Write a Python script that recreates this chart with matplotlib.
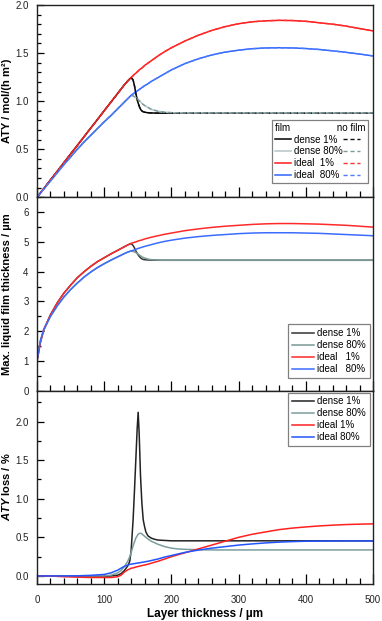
import numpy as np
import matplotlib
matplotlib.use('Agg')
import matplotlib.pyplot as plt
from matplotlib.ticker import MultipleLocator

plt.rcParams['font.family'] = ['Liberation Sans', 'DejaVu Sans']
plt.rcParams['mathtext.fontset'] = 'custom'
plt.rcParams['mathtext.rm'] = 'Liberation Sans'
plt.rcParams['mathtext.it'] = 'Liberation Sans:italic'
plt.rcParams['mathtext.bf'] = 'Liberation Sans:bold'
plt.rcParams['mathtext.bfit'] = 'Liberation Sans:italic:bold'

# layer thickness grid for ATY and film thickness panels
x12 = [0, 5, 10, 20, 30, 40, 50, 60, 70, 80, 90, 100, 110, 120, 130, 135, 140, 143, 145, 147,
       150, 153, 155, 157, 160, 165, 170, 180, 190, 200, 220, 240, 260, 280, 300, 320, 340, 360,
       380, 400, 420, 440, 460, 480, 500]

# ATY / mol/(h m2)
aty_ideal1 = [0, 0.045, 0.09, 0.18, 0.27, 0.36, 0.45, 0.54, 0.63, 0.72, 0.81, 0.90, 0.99, 1.08, 1.17, 1.21,
              1.245, 1.265, 1.28, 1.29, 1.31, 1.33, 1.34, 1.35, 1.37, 1.395, 1.42, 1.47, 1.515, 1.555,
              1.625, 1.685, 1.735, 1.775, 1.805, 1.825, 1.835, 1.84, 1.838, 1.83, 1.815, 1.80, 1.78, 1.755, 1.73]
aty_ideal80 = [0, 0.043, 0.085, 0.17, 0.255, 0.34, 0.42, 0.50, 0.575, 0.645, 0.715, 0.785, 0.85, 0.92, 0.99,
               1.025, 1.06, 1.075, 1.085, 1.095, 1.11, 1.125, 1.135, 1.145, 1.16, 1.18, 1.205, 1.245, 1.285,
               1.325, 1.39, 1.44, 1.48, 1.51, 1.53, 1.545, 1.553, 1.555, 1.553, 1.547, 1.537, 1.523, 1.507, 1.49, 1.47]
aty_dense1 = [0, 0.045, 0.09, 0.18, 0.27, 0.36, 0.45, 0.54, 0.63, 0.72, 0.81, 0.90, 0.99, 1.08, 1.17, 1.21,
              1.245, 1.22, 1.16, 1.08, 0.99, 0.93, 0.905, 0.893, 0.885, 0.879, 0.877, 0.875, 0.875, 0.875,
              0.875, 0.875, 0.875, 0.875, 0.875, 0.875, 0.875, 0.875, 0.875, 0.875, 0.875, 0.875, 0.875, 0.875, 0.875]
aty_dense80 = [0, 0.043, 0.085, 0.17, 0.255, 0.34, 0.42, 0.50, 0.575, 0.645, 0.715, 0.785, 0.85, 0.92, 0.99,
               1.025, 1.06, 1.055, 1.045, 1.035, 1.02, 1.0, 0.985, 0.97, 0.955, 0.935, 0.915, 0.895, 0.885,
               0.88, 0.877, 0.877, 0.877, 0.877, 0.877, 0.877, 0.877, 0.877, 0.877, 0.877, 0.877, 0.877, 0.877, 0.877, 0.877]

# max. liquid film thickness / um
film_ideal1 = [1.0, 1.62, 2.05, 2.55, 2.95, 3.28, 3.55, 3.80, 4.0, 4.18, 4.34, 4.47, 4.60, 4.72, 4.84, 4.90,
               4.95, 4.975, 4.99, 5.0, 5.03, 5.05, 5.06, 5.075, 5.10, 5.13, 5.16, 5.21, 5.26, 5.30, 5.38,
               5.44, 5.49, 5.53, 5.56, 5.59, 5.61, 5.62, 5.62, 5.61, 5.60, 5.58, 5.56, 5.53, 5.50]
film_ideal80 = [1.0, 1.68, 2.05, 2.50, 2.85, 3.15, 3.40, 3.62, 3.82, 3.99, 4.14, 4.27, 4.39, 4.50, 4.61, 4.66,
                4.70, 4.72, 4.735, 4.75, 4.78, 4.80, 4.815, 4.83, 4.85, 4.88, 4.91, 4.97, 5.02, 5.06, 5.13,
                5.18, 5.22, 5.25, 5.28, 5.30, 5.31, 5.31, 5.31, 5.30, 5.29, 5.27, 5.25, 5.23, 5.21]
film_dense1 = [1.0, 1.62, 2.05, 2.55, 2.95, 3.28, 3.55, 3.80, 4.0, 4.18, 4.34, 4.47, 4.60, 4.72, 4.84, 4.90,
               4.95, 4.88, 4.80, 4.70, 4.58, 4.49, 4.45, 4.42, 4.405, 4.395, 4.39, 4.385, 4.385, 4.385, 4.385,
               4.385, 4.385, 4.385, 4.385, 4.385, 4.385, 4.385, 4.385, 4.385, 4.385, 4.385, 4.385, 4.385, 4.385]
film_dense80 = [1.0, 1.68, 2.05, 2.50, 2.85, 3.15, 3.40, 3.62, 3.82, 3.99, 4.14, 4.27, 4.39, 4.50, 4.61, 4.66,
                4.70, 4.68, 4.665, 4.645, 4.60, 4.55, 4.52, 4.49, 4.46, 4.425, 4.405, 4.39, 4.385, 4.385, 4.385,
                4.385, 4.385, 4.385, 4.385, 4.385, 4.385, 4.385, 4.385, 4.385, 4.385, 4.385, 4.385, 4.385, 4.385]

# ATY loss / %
x3 = [0, 20, 40, 60, 80, 100, 110, 120, 125, 130, 135, 138, 140, 143, 145, 147, 149, 150.5, 152, 154, 156,
      158, 160, 162, 165, 170, 175, 180, 190, 200, 210, 220, 240, 260, 280, 300, 320, 340, 360, 380, 400,
      420, 440, 460, 480, 500]
loss_dense1 = [0, 0, 0, -0.005, -0.005, -0.005, 0, 0.01, 0.03, 0.07, 0.13, 0.19, 0.32, 0.73, 1.1, 1.5, 1.9,
               2.12, 1.85, 1.3, 0.95, 0.73, 0.64, 0.57, 0.52, 0.49, 0.475, 0.465, 0.46, 0.455, 0.455, 0.455,
               0.455, 0.455, 0.455, 0.455, 0.455, 0.455, 0.455, 0.455, 0.455, 0.455, 0.455, 0.455, 0.455, 0.455]
loss_dense80 = [0, 0, 0, 0, 0, 0, 0.01, 0.04, 0.07, 0.12, 0.19, 0.25, 0.30, 0.39, 0.44, 0.49, 0.52, 0.54,
                0.55, 0.553, 0.545, 0.53, 0.515, 0.50, 0.48, 0.45, 0.43, 0.41, 0.38, 0.36, 0.35, 0.345, 0.34,
                0.337, 0.337, 0.337, 0.337, 0.337, 0.337, 0.337, 0.337, 0.337, 0.337, 0.337, 0.337, 0.337]
loss_ideal1 = [0, 0, -0.01, -0.015, -0.02, -0.02, -0.02, -0.01, 0.01, 0.05, 0.08, 0.09, 0.10, 0.105, 0.11,
               0.115, 0.12, 0.123, 0.126, 0.13, 0.134, 0.138, 0.142, 0.146, 0.152, 0.165, 0.178, 0.19, 0.22,
               0.25, 0.275, 0.30, 0.35, 0.40, 0.45, 0.50, 0.54, 0.57, 0.60, 0.62, 0.635, 0.648, 0.658, 0.666,
               0.671, 0.675]
loss_ideal80 = [0, 0, 0, 0.002, 0.008, 0.02, 0.04, 0.075, 0.10, 0.125, 0.14, 0.15, 0.153, 0.157, 0.16, 0.163,
                0.166, 0.168, 0.17, 0.173, 0.176, 0.179, 0.182, 0.186, 0.19, 0.20, 0.21, 0.22, 0.245, 0.265,
                0.285, 0.305, 0.335, 0.36, 0.38, 0.40, 0.415, 0.428, 0.438, 0.445, 0.45, 0.452, 0.453, 0.454,
                0.454, 0.454]

fig = plt.figure(figsize=(3.82, 6.21), dpi=100)
L, W = 0.0969, 0.8796
ax1 = fig.add_axes([L, 0.6823, W, 0.3097])
ax2 = fig.add_axes([L, 0.3708, W, 0.3114])
ax3 = fig.add_axes([L, 0.0601, W, 0.3108])

legkw = dict(fontsize=7, frameon=True, fancybox=False, edgecolor='#808080', framealpha=1,
             handletextpad=0.3, labelspacing=0.2, borderpad=0.4, borderaxespad=0)

# panel 1
ax1.plot(x12, aty_dense1, color='#000000', lw=1.1, label='dense 1%')
ax1.plot(x12, aty_dense80, color='#b4c4c8', lw=1.1, label='dense 80%')
ax1.plot(x12, aty_ideal1, color='#ff1a1a', lw=1.1, label='ideal  1%')
ax1.plot(x12, aty_ideal80, color='#2f64ff', lw=1.1, label='ideal  80%')
d1, = ax1.plot(x12, aty_dense1, color='#111111', lw=1.0, ls=(0, (3, 2)))
d2, = ax1.plot(x12, aty_dense80, color='#7c9c9c', lw=1.0, ls=(0, (3, 2)))
d3, = ax1.plot(x12, aty_ideal1, color='#ff3030', lw=1.0, ls=(0, (3, 2)))
d4, = ax1.plot(x12, aty_ideal80, color='#4a7dff', lw=1.0, ls=(0, (3, 2)))
h, lab = ax1.get_legend_handles_labels()
leg1 = ax1.legend(h + [d1, d2, d3, d4], lab + [''] * 4, ncol=2, loc='lower right',
                  bbox_to_anchor=(0.985, 0.073), title='film                 no film',
                  title_fontsize=7, alignment='left', handlelength=1.7, columnspacing=0.1,
                  **{**legkw, 'borderpad': 0.3, 'handletextpad': 0.25})
leg1.get_frame().set_linewidth(0.9)

# panel 2
ax2.plot(x12, film_dense1, color='#333333', lw=1.1, label='dense 1%')
ax2.plot(x12, film_dense80, color='#7a9a96', lw=1.1, label='dense 80%')
ax2.plot(x12, film_ideal1, color='#ff2a2a', lw=1.1, label='ideal   1%')
ax2.plot(x12, film_ideal80, color='#3a6cff', lw=1.1, label='ideal   80%')
leg2 = ax2.legend(loc='lower right', bbox_to_anchor=(0.99, 0.066), handlelength=2.3, **legkw)
leg2.get_frame().set_linewidth(0.9)

# panel 3
ax3.plot(x3, loss_dense1, color='#222222', lw=1.1, label='dense 1%')
ax3.plot(x3, loss_dense80, color='#7a9e9c', lw=1.1, label='dense 80%')
ax3.plot(x3, loss_ideal1, color='#ff2020', lw=1.1, label='ideal 1%')
ax3.plot(x3, loss_ideal80, color='#2255ff', lw=1.1, label='ideal 80%')
leg3 = ax3.legend(loc='upper right', bbox_to_anchor=(0.99, 0.99), handlelength=2.3, **legkw)
leg3.get_frame().set_linewidth(0.9)

ax1.set_ylim(0, 2.0)
ax1.yaxis.set_major_locator(MultipleLocator(0.5))
ax1.yaxis.set_minor_locator(MultipleLocator(0.1))
ax1.yaxis.set_major_formatter(plt.FormatStrFormatter('%.1f'))
ax2.set_ylim(0, 6.5)
ax2.yaxis.set_major_locator(MultipleLocator(1))
ax2.yaxis.set_minor_locator(MultipleLocator(0.5))
ax3.set_ylim(-0.1, 2.4)
ax3.yaxis.set_major_locator(MultipleLocator(0.5))
ax3.yaxis.set_minor_locator(MultipleLocator(0.25))
ax3.yaxis.set_major_formatter(plt.FormatStrFormatter('%.1f'))

for ax in (ax1, ax2, ax3):
    ax.set_xlim(0, 500)
    ax.xaxis.set_major_locator(MultipleLocator(100))
    ax.xaxis.set_minor_locator(MultipleLocator(20))
    ax.tick_params(which='both', direction='in', top=False, right=False, labelsize=7,
                   labelcolor='#222222', width=0.9)
    ax.tick_params(axis='y', which='major', length=5, pad=6)
    ax.tick_params(axis='y', which='minor', length=3)
    ax.tick_params(axis='x', which='major', length=7, pad=8)
    ax.tick_params(axis='x', which='minor', length=4)
    for s in ax.spines.values():
        s.set_linewidth(1.0)
        s.set_color('#222222')
    ax.yaxis.set_label_coords(-0.075, 0.5)

ax1.tick_params(axis='x', labelbottom=False)
ax2.tick_params(axis='x', labelbottom=False)

ax1.set_ylabel('ATY / mol/(h m²)', fontsize=8, fontweight='bold')
ax2.set_ylabel('Max. liquid film thickness / µm', fontsize=8, fontweight='bold')
ax3.set_ylabel(r'$\mathbfit{ATY}$ loss / %', fontsize=8, fontweight='bold')
ax3.set_xlabel('Layer thickness / µm', fontsize=8.5, fontweight='bold', labelpad=2)

fig.savefig('out.png', dpi=100)
